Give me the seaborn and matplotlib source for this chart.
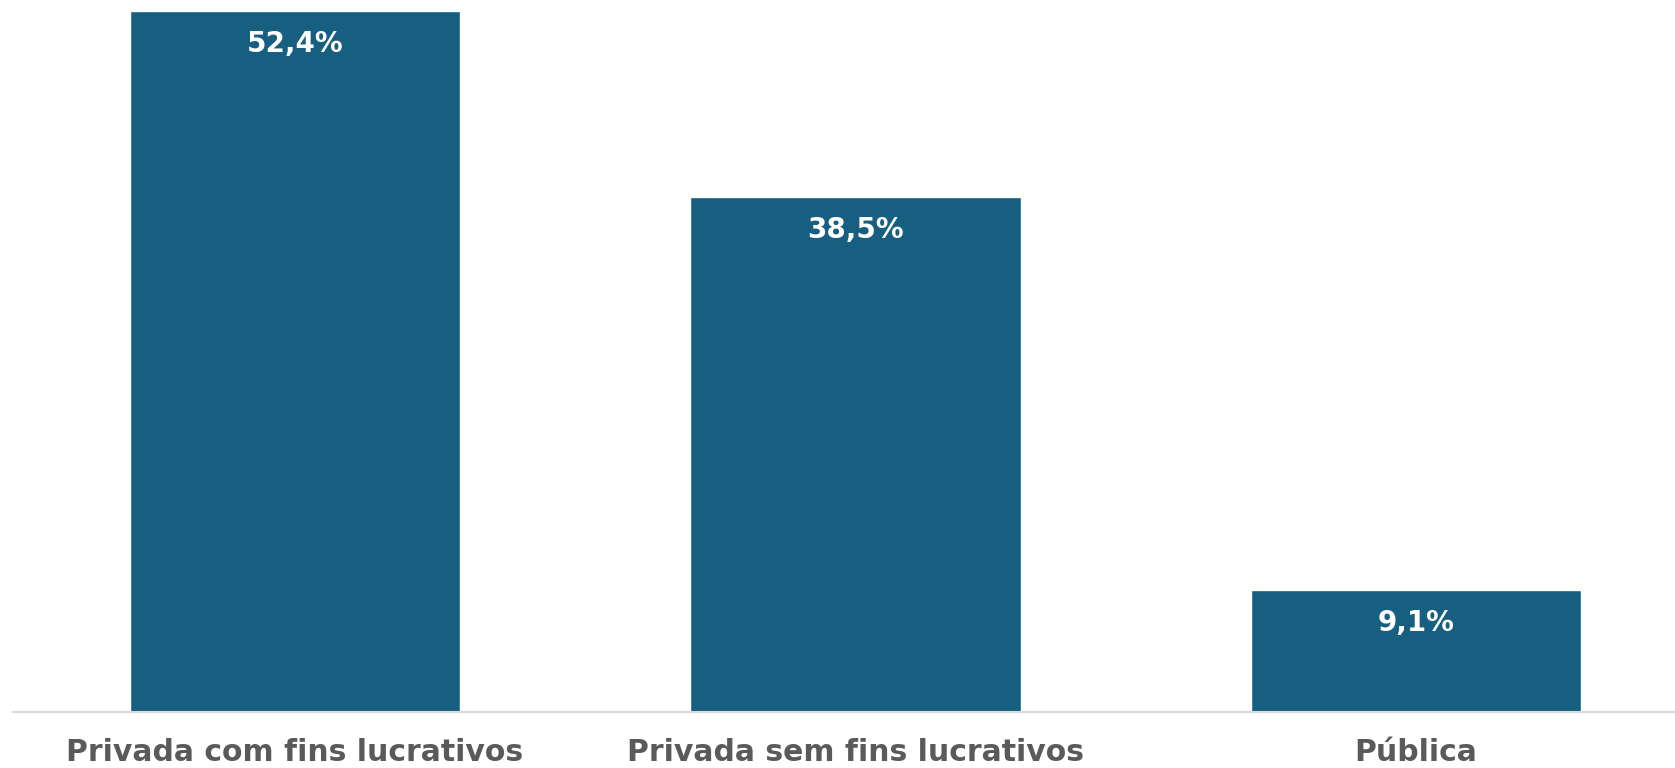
import matplotlib
matplotlib.use("Agg")
import matplotlib.pyplot as plt
import seaborn as sns

# Data
categories = ["Privada com fins lucrativos", "Privada sem fins lucrativos", "Pública"]
values = [52.4, 38.5, 9.1]
value_labels = ["52,4%", "38,5%", "9,1%"]

bar_color = "#175f80"
label_color = "#5a5a5a"

sns.set_theme(style="white")
plt.rcParams["font.family"] = ["DejaVu Sans"]

fig = plt.figure(figsize=(16.75, 7.68), dpi=100)
ax = fig.add_axes([13 / 1675, 56 / 768, 1 - 13 / 1675, 1 - 56 / 768])

sns.barplot(x=categories, y=values, color=bar_color, saturation=1, width=0.589, ax=ax)

ax.set_ylim(0, 53.25)
ax.set_xlim(-0.503, 2.462)

# value labels inside bar tops
for patch, lab in zip(ax.patches, value_labels):
    ax.annotate(lab, (patch.get_x() + patch.get_width() / 2, patch.get_height()),
                xytext=(0, -23.5), textcoords="offset points",
                ha="center", va="center", color="white",
                fontsize=20, fontweight="bold")

sns.despine(ax=ax, left=True, top=True, right=True)
ax.spines["bottom"].set_color("#d9d9d9")
ax.spines["bottom"].set_linewidth(1.5)
ax.set_yticks([])
ax.set_xlabel("")
ax.set_ylabel("")
ax.tick_params(axis="x", length=0, pad=19, labelsize=21.5, labelcolor=label_color)
for t in ax.get_xticklabels():
    t.set_fontweight("bold")

fig.savefig("out.png", dpi=100)
